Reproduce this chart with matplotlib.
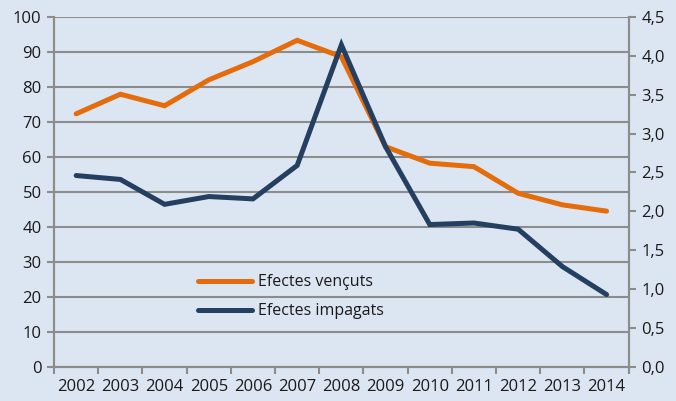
import matplotlib
matplotlib.use("Agg")
import matplotlib.pyplot as plt
import numpy as np

years = ["2002", "2003", "2004", "2005", "2006", "2007", "2008",
         "2009", "2010", "2011", "2012", "2013", "2014"]
vencuts = [72.3, 77.9, 74.6, 82.0, 87.2, 93.3, 88.6, 62.9, 58.2, 57.2, 49.6, 46.3, 44.5]
impagats = [2.46, 2.41, 2.09, 2.19, 2.16, 2.59, 4.14, 2.83, 1.83, 1.85, 1.77, 1.29, 0.93]
left_ticks = list(range(0, 101, 10))
right_ticks = [0.0, 0.5, 1.0, 1.5, 2.0, 2.5, 3.0, 3.5, 4.0, 4.5]
right_labels = ["0,0", "0,5", "1,0", "1,5", "2,0", "2,5", "3,0", "3,5", "4,0", "4,5"]

plt.rcParams['font.family'] = ['Open Sans', 'DejaVu Sans']
bg = "#dce6f2"
grid = "#8c8c8c"
orange = "#e46c0a"
navy = "#243f60"
txt = "#1a1a1a"

fig = plt.figure(figsize=(6.76, 4.01), dpi=100, facecolor=bg)
ax = fig.add_axes([0.080, 0.085, 0.850, 0.873])
ax.set_facecolor(bg)
ax2 = ax.twinx()

x = np.arange(len(years))
l1, = ax.plot(x, vencuts, color=orange, lw=3.6, solid_capstyle='round', solid_joinstyle='miter', label="Efectes vençuts", zorder=3)
l2, = ax2.plot(x, impagats, color=navy, lw=3.6, solid_capstyle='round', solid_joinstyle='miter', label="Efectes impagats", zorder=3)

ax.set_xlim(-0.5, len(years) - 0.5)
ax.set_ylim(0, 100)
ax2.set_ylim(0, 4.5)
ax.set_yticks(left_ticks)
ax.set_yticklabels([str(v) for v in left_ticks])
ax2.set_yticks(right_ticks)
ax2.set_yticklabels(right_labels)
ax.set_xticks(x)
ax.set_xticklabels(years)
ax.set_xticks(np.arange(len(years) + 1) - 0.5, minor=True)
ax.tick_params(axis='x', which='major', length=0, pad=9, labelsize=12, labelcolor=txt)
ax.tick_params(axis='x', which='minor', length=5, color=grid, width=1.5, direction='out')
ax.tick_params(axis='y', length=5, color=grid, width=1.5, labelsize=12, labelcolor=txt, pad=4)
ax2.tick_params(axis='y', length=5, color=grid, width=1.5, labelsize=12, labelcolor=txt, pad=4)

ax.yaxis.grid(True, color=grid, lw=1.5)
ax.set_axisbelow(True)
for a in (ax, ax2):
    a.spines['top'].set_visible(False)
    for s in ('left', 'right', 'bottom'):
        a.spines[s].set_color(grid)
        a.spines[s].set_linewidth(1.5)

leg = ax2.legend(handles=[l1, l2], loc='upper left', bbox_to_anchor=(0.25, 0.264),
                 frameon=False, fontsize=11.5, handlelength=3.4, handletextpad=0.35,
                 labelspacing=0.8, borderaxespad=0, borderpad=0)
for t in leg.get_texts():
    t.set_color(txt)

fig.savefig("out.png", dpi=100, facecolor=bg)
